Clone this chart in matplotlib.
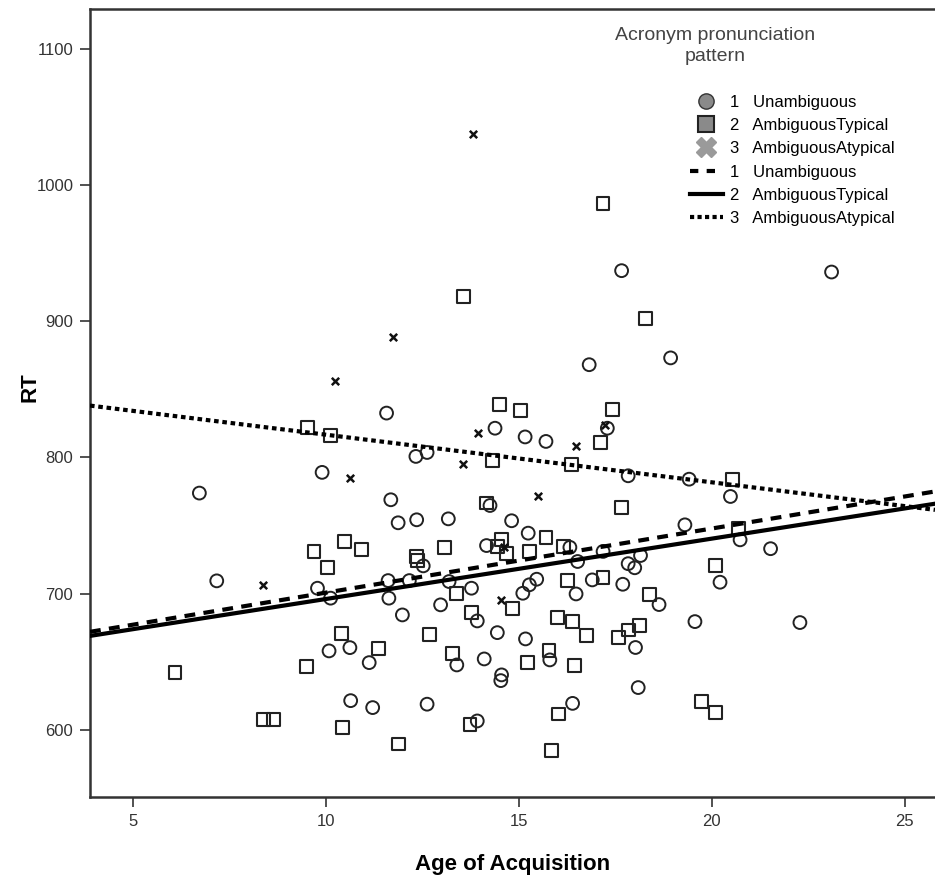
import matplotlib.pyplot as plt
from matplotlib.lines import Line2D

# --- data (Age of Acquisition vs RT) ---
unamb_aoa = [17.66, 23.1, 18.93, 16.82, 11.57, 14.38, 17.29, 15.16, 15.70, 12.33,
             12.62, 9.90, 17.83, 19.41, 6.72, 20.48, 11.68, 14.25, 11.87, 12.35,
             13.17, 14.81, 19.30, 15.24, 20.73, 14.16, 16.32, 21.52, 17.18, 16.52,
             17.83, 18.0, 18.15, 12.52, 7.17, 11.61, 12.16, 13.19, 9.78, 13.77,
             15.46, 15.27, 15.10, 16.48, 16.90, 17.69, 20.21, 10.12, 11.63, 18.63,
             12.97, 11.98, 13.92, 19.56, 22.28, 14.44, 15.17, 18.02, 10.08, 10.62,
             11.12, 13.39, 14.10, 15.80, 14.55, 14.53, 18.09, 10.64, 11.21, 12.62,
             16.39, 13.92]
unamb_rt = [937, 936, 873, 868, 832.5, 821.4, 821.4, 815, 811.7, 800.7,
            803.6, 789, 786.5, 784, 773.8, 771.3, 768.9, 764.7, 752, 754.2,
            754.9, 753.5, 750.5, 744.4, 739.5, 735.3, 734, 733, 731, 723.6,
            722, 719, 728, 720.4, 709.4, 709.6, 709.6, 708.9, 704, 704,
            710.6, 706.5, 700.3, 699.8, 710.1, 706.9, 708.4, 696.7, 696.7, 692,
            691.8, 684.4, 680, 679.5, 678.8, 671.4, 666.8, 660.5, 658, 660.4,
            649.4, 647.7, 652.1, 651.4, 640.4, 636.2, 631.1, 621.5, 616.4, 618.9,
            619.5, 606.6]

typ_aoa = [17.18, 13.56, 18.28, 14.49, 15.03, 17.43, 9.52, 10.12, 17.12, 14.32,
           16.36, 20.53, 14.16, 17.66, 20.68, 15.70, 14.55, 10.47, 9.69, 10.92,
           12.35, 13.08, 14.44, 14.68, 15.27, 16.15, 12.37, 10.04, 20.09, 16.25,
           17.18, 13.39, 18.38, 14.83, 13.77, 16.0, 16.38, 18.12, 17.83, 17.57,
           16.74, 10.41, 12.68, 11.36, 13.27, 15.78, 15.23, 16.43, 9.50, 6.09,
           19.73, 20.09, 16.02, 8.38, 8.65, 13.73, 10.42, 11.87, 15.85]
typ_rt = [986, 918, 902, 839, 834.2, 835, 822, 815.9, 810.9, 797.5,
          794.6, 783.5, 766.5, 763.4, 747.9, 741.4, 739.9, 738.3, 730.9, 732.2,
          727.2, 733.8, 734.5, 729.7, 731, 734.5, 724.4, 719.2, 720.4, 709.6,
          712, 699.9, 699.4, 689.3, 686.1, 682.6, 679.5, 676.4, 673.4, 668,
          669.2, 670.5, 670.2, 659.9, 656.3, 658.2, 649.5, 647, 646.5, 642.1,
          620.8, 613, 611.7, 607.8, 607.8, 604.2, 602, 589.7, 584.8]

atyp_aoa = [13.82, 11.74, 10.23, 13.93, 17.23, 16.48, 13.56, 10.62, 15.50, 8.38,
            14.53, 14.62]
atyp_rt = [1037, 888, 856, 818, 824, 808, 795, 785, 772, 706.5, 695, 734]

# fit lines, end points read at the axis edges
line_x = [3.886, 25.78]
unamb_fit = [672, 775]
typ_fit = [669, 766]
atyp_fit = [838, 761.5]

group_names = ['Unambiguous', 'AmbiguousTypical', 'AmbiguousAtypical']

plt.rcParams['font.family'] = ['Liberation Sans', 'DejaVu Sans']

fig = plt.figure(figsize=(9.35, 8.83), dpi=100)
ax = fig.add_axes([90 / 935, 1 - 797 / 883, 1 - 90 / 935, (797 - 9) / 883])

ax.scatter(unamb_aoa, unamb_rt, marker='o', s=85, facecolors='none',
           edgecolors='#222222', linewidths=1.4, zorder=3)
ax.scatter(typ_aoa, typ_rt, marker='s', s=85, facecolors='none',
           edgecolors='#222222', linewidths=1.5, zorder=3)
ax.scatter(atyp_aoa, atyp_rt, marker='x', s=28, color='#111111',
           linewidths=1.8, zorder=3)

ax.plot(line_x, unamb_fit, color='black', lw=3, linestyle=(0, (2.6, 2.0)), zorder=4)
ax.plot(line_x, typ_fit, color='black', lw=3, linestyle='-', zorder=4)
ax.plot(line_x, atyp_fit, color='black', lw=3, linestyle=(0, (1.1, 0.9)), zorder=4)

ax.set_xlim(line_x[0], line_x[1])
ax.set_ylim(550.8, 1129)
ax.set_xticks([5, 10, 15, 20, 25])
ax.set_yticks([600, 700, 800, 900, 1000, 1100])
ax.tick_params(direction='out', length=7, width=1.2, colors='#333333',
               labelsize=12, pad=5)
for side in ['left', 'bottom', 'top']:
    ax.spines[side].set_color('#333333')
    ax.spines[side].set_linewidth(1.8)
ax.spines['right'].set_visible(False)

ax.set_xlabel('Age of Acquisition', fontsize=16, fontweight='bold', labelpad=18)
ax.set_ylabel('RT', fontsize=16, fontweight='bold')
ax.yaxis.set_label_coords(-0.058, 0.52)

# legend
handles = [
    Line2D([], [], linestyle='none', marker='o', markersize=11,
           markerfacecolor='#8a8a8a', markeredgecolor='#333333'),
    Line2D([], [], linestyle='none', marker='s', markersize=11,
           markerfacecolor='#8a8a8a', markeredgecolor='#222222', markeredgewidth=1.5),
    Line2D([], [], linestyle='none', marker='X', markersize=15,
           markerfacecolor='#9a9a9a', markeredgecolor='#9a9a9a'),
    Line2D([], [], color='black', lw=3, linestyle=(0, (2.0, 2.0))),
    Line2D([], [], color='black', lw=3, linestyle='-'),
    Line2D([], [], color='black', lw=3, linestyle=(0, (1.0, 0.8))),
]
labels = [f'{i}   {name}' for i, name in enumerate(group_names, start=1)] * 2
fig.legend(handles, labels, loc='upper left', bbox_to_anchor=(683 / 935, 1 - 88 / 883),
           frameon=False, fontsize=12, handlelength=2.0, handletextpad=0.4,
           labelspacing=0.5, borderaxespad=0)
fig.text(715 / 935, 1 - 27 / 883, 'Acronym pronunciation\npattern', ha='center',
         va='top', fontsize=14, color='#444444', linespacing=1.3)

fig.savefig('out.png', dpi=100)
